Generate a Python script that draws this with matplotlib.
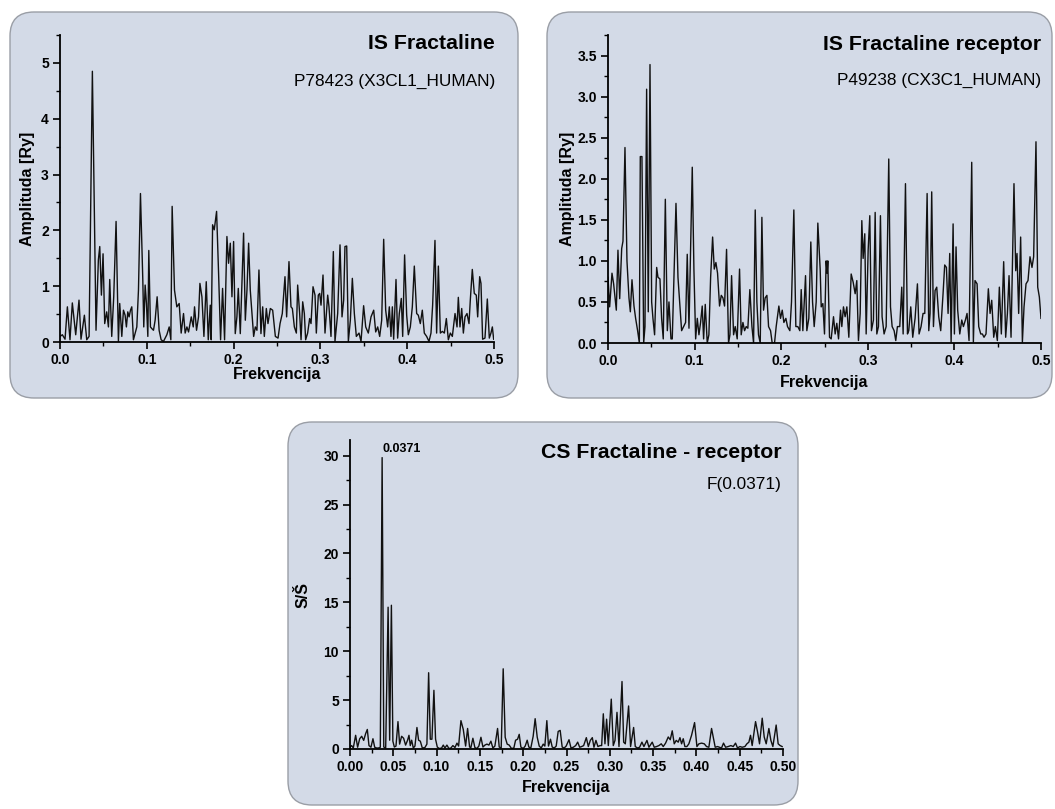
import matplotlib
matplotlib.use("Agg")
import matplotlib.pyplot as plt
from matplotlib.patches import FancyBboxPatch
from matplotlib.ticker import MultipleLocator, FormatStrFormatter

plt.rcParams['font.family'] = ['Liberation Sans', 'DejaVu Sans']
plt.rcParams['font.weight'] = 'bold'
plt.rcParams['axes.labelweight'] = 'bold'

# (frequency, amplitude)
is_fractaline = [
    (0.0000, 0.10), (0.0027, 0.13), (0.0058, 0.05), (0.0085, 0.63), (0.0115, 0.04), (0.0142, 0.70),
    (0.0181, 0.13), (0.0219, 0.75), (0.0242, 0.05), (0.0281, 0.48), (0.0308, 0.04), (0.0335, 0.10),
    (0.0373, 4.85), (0.0415, 0.21), (0.0442, 1.47), (0.0458, 1.71), (0.0477, 0.84), (0.0496, 1.58),
    (0.0515, 0.33), (0.0538, 0.54), (0.0558, 0.27), (0.0573, 1.12), (0.0596, 0.10), (0.0619, 0.81),
    (0.0646, 2.16), (0.0673, 0.01), (0.0688, 0.69), (0.0712, 0.10), (0.0731, 0.57), (0.0750, 0.48),
    (0.0765, 0.27), (0.0781, 0.54), (0.0796, 0.45), (0.0812, 0.57), (0.0827, 0.63), (0.0846, 0.04),
    (0.0885, 0.27), (0.0904, 0.93), (0.0927, 2.66), (0.0954, 1.11), (0.0965, 0.27), (0.0981, 1.02),
    (0.0996, 0.69), (0.1012, 0.10), (0.1023, 1.64), (0.1042, 0.27), (0.1058, 0.24), (0.1077, 0.21),
    (0.1096, 0.39), (0.1119, 0.81), (0.1142, 0.21), (0.1165, 0.04), (0.1192, 0.01), (0.1231, 0.13),
    (0.1258, 0.27), (0.1277, 0.04), (0.1292, 2.43), (0.1319, 0.93), (0.1346, 0.63), (0.1373, 0.69),
    (0.1396, 0.16), (0.1423, 0.51), (0.1442, 0.16), (0.1462, 0.27), (0.1481, 0.18), (0.1512, 0.45),
    (0.1535, 0.27), (0.1550, 0.63), (0.1573, 0.21), (0.1596, 0.45), (0.1612, 1.05), (0.1635, 0.81),
    (0.1658, 0.10), (0.1685, 1.08), (0.1708, 0.04), (0.1731, 0.66), (0.1742, 0.04), (0.1758, 2.10),
    (0.1777, 2.01), (0.1804, 2.34), (0.1827, 1.23), (0.1850, 0.04), (0.1873, 0.96), (0.1896, 0.04),
    (0.1923, 1.89), (0.1942, 1.41), (0.1962, 1.77), (0.1981, 0.81), (0.2000, 1.80), (0.2019, 0.15),
    (0.2038, 0.45), (0.2054, 0.96), (0.2077, 0.15), (0.2115, 1.95), (0.2135, 0.39), (0.2154, 0.93),
    (0.2173, 1.77), (0.2192, 0.93), (0.2231, 0.10), (0.2250, 0.27), (0.2269, 0.21), (0.2292, 1.29),
    (0.2315, 0.15), (0.2335, 0.63), (0.2354, 0.10), (0.2377, 0.60), (0.2396, 0.33), (0.2423, 0.60),
    (0.2450, 0.57), (0.2481, 0.10), (0.2512, 0.07), (0.2535, 0.33), (0.2561, 0.51), (0.2592, 1.17),
    (0.2611, 0.45), (0.2638, 1.44), (0.2661, 0.63), (0.2677, 0.60), (0.2700, 0.27), (0.2723, 0.16),
    (0.2738, 1.02), (0.2761, 0.51), (0.2777, 0.04), (0.2796, 0.72), (0.2815, 0.51), (0.2830, 0.04),
    (0.2853, 0.16), (0.2876, 0.42), (0.2892, 0.33), (0.2915, 0.99), (0.2938, 0.84), (0.2953, 0.16),
    (0.2976, 0.84), (0.2992, 0.87), (0.3007, 0.66), (0.3030, 1.20), (0.3053, 0.16), (0.3084, 0.84),
    (0.3099, 0.63), (0.3122, 0.10), (0.3149, 1.62), (0.3168, 0.01), (0.3199, 0.51), (0.3226, 1.74),
    (0.3249, 0.45), (0.3268, 0.75), (0.3283, 1.71), (0.3303, 1.72), (0.3322, 0.01), (0.3345, 0.39),
    (0.3368, 1.14), (0.3391, 0.51), (0.3414, 0.10), (0.3445, 0.16), (0.3468, 0.01), (0.3498, 0.65),
    (0.3522, 0.27), (0.3552, 0.16), (0.3583, 0.45), (0.3614, 0.57), (0.3637, 0.18), (0.3660, 0.27),
    (0.3683, 0.10), (0.3706, 0.39), (0.3729, 1.84), (0.3752, 0.57), (0.3775, 0.27), (0.3794, 0.63),
    (0.3813, 0.10), (0.3829, 0.63), (0.3844, 0.05), (0.3871, 1.12), (0.3890, 0.07), (0.3909, 0.51),
    (0.3932, 0.78), (0.3948, 0.10), (0.3970, 1.56), (0.3994, 0.48), (0.4013, 0.13), (0.4036, 0.27),
    (0.4059, 0.63), (0.4082, 1.36), (0.4109, 0.51), (0.4128, 0.48), (0.4151, 0.33), (0.4174, 0.57),
    (0.4197, 0.16), (0.4224, 0.10), (0.4251, 0.01), (0.4274, 0.16), (0.4293, 0.66), (0.4320, 1.82),
    (0.4339, 0.16), (0.4359, 1.36), (0.4382, 0.16), (0.4405, 0.19), (0.4428, 0.16), (0.4451, 0.42),
    (0.4474, 0.04), (0.4497, 0.16), (0.4520, 0.10), (0.4551, 0.51), (0.4574, 0.27), (0.4589, 0.80),
    (0.4608, 0.27), (0.4628, 0.60), (0.4647, 0.16), (0.4666, 0.45), (0.4689, 0.51), (0.4712, 0.33),
    (0.4727, 0.75), (0.4750, 1.30), (0.4773, 0.87), (0.4796, 0.84), (0.4812, 0.45), (0.4835, 1.17),
    (0.4850, 1.05), (0.4869, 0.05), (0.4896, 0.07), (0.4923, 0.77), (0.4946, 0.07), (0.4965, 0.16),
    (0.4981, 0.27), (0.4996, 0.05),
]

is_receptor = [
    (0.0000, 0.80), (0.0019, 0.44), (0.0046, 0.85), (0.0065, 0.72), (0.0096, 0.40), (0.0115, 1.13),
    (0.0135, 0.54), (0.0158, 1.15), (0.0173, 1.24), (0.0196, 2.38), (0.0219, 1.00), (0.0242, 0.55),
    (0.0258, 0.38), (0.0277, 0.77), (0.0300, 0.45), (0.0319, 0.30), (0.0342, 0.15), (0.0362, 0.00),
    (0.0373, 2.27), (0.0392, 2.27), (0.0412, 0.00), (0.0427, 0.20), (0.0446, 3.09), (0.0465, 0.38),
    (0.0485, 3.39), (0.0504, 0.50), (0.0519, 0.30), (0.0538, 0.10), (0.0562, 0.92), (0.0577, 0.80),
    (0.0600, 0.78), (0.0619, 0.30), (0.0638, 0.05), (0.0662, 1.75), (0.0685, 0.15), (0.0704, 0.50),
    (0.0727, 0.05), (0.0742, 0.05), (0.0785, 1.70), (0.0808, 0.80), (0.0827, 0.50), (0.0850, 0.15),
    (0.0873, 0.20), (0.0896, 0.25), (0.0915, 1.08), (0.0935, 0.18), (0.0973, 2.14), (0.0992, 0.90),
    (0.1012, 0.05), (0.1031, 0.30), (0.1050, 0.10), (0.1069, 0.25), (0.1088, 0.45), (0.1104, 0.05),
    (0.1123, 0.47), (0.1146, 0.00), (0.1165, 0.10), (0.1185, 0.80), (0.1208, 1.29), (0.1227, 0.90),
    (0.1246, 0.98), (0.1265, 0.85), (0.1288, 0.45), (0.1308, 0.58), (0.1327, 0.55), (0.1346, 0.45),
    (0.1369, 1.14), (0.1392, 0.00), (0.1408, 0.10), (0.1427, 0.82), (0.1450, 0.10), (0.1469, 0.20),
    (0.1492, 0.05), (0.1519, 0.90), (0.1538, 0.10), (0.1558, 0.25), (0.1577, 0.15), (0.1596, 0.20),
    (0.1615, 0.18), (0.1638, 0.65), (0.1662, 0.20), (0.1681, 0.00), (0.1700, 1.62), (0.1719, 0.50),
    (0.1738, 0.10), (0.1758, 0.00), (0.1777, 1.53), (0.1796, 0.40), (0.1815, 0.55), (0.1835, 0.58),
    (0.1854, 0.20), (0.1877, 0.15), (0.1896, 0.00), (0.1923, 0.00), (0.1942, 0.20), (0.1973, 0.45),
    (0.1992, 0.30), (0.2012, 0.40), (0.2031, 0.25), (0.2054, 0.30), (0.2073, 0.20), (0.2100, 0.15),
    (0.2119, 0.50), (0.2146, 1.62), (0.2169, 0.20), (0.2192, 0.20), (0.2215, 0.15), (0.2231, 0.65),
    (0.2250, 0.15), (0.2281, 0.82), (0.2296, 0.15), (0.2319, 0.30), (0.2342, 1.23), (0.2362, 0.50),
    (0.2381, 0.20), (0.2404, 0.50), (0.2423, 1.46), (0.2450, 0.90), (0.2462, 0.44), (0.2481, 0.48),
    (0.2500, 0.11), (0.2519, 1.00), (0.2530, 0.85), (0.2538, 1.00), (0.2558, 0.07), (0.2577, 0.05),
    (0.2604, 0.32), (0.2623, 0.11), (0.2642, 0.24), (0.2662, 0.05), (0.2685, 0.40), (0.2700, 0.20),
    (0.2719, 0.44), (0.2738, 0.32), (0.2758, 0.44), (0.2781, 0.07), (0.2808, 0.84), (0.2831, 0.74),
    (0.2854, 0.60), (0.2873, 0.76), (0.2892, 0.03), (0.2912, 0.36), (0.2931, 1.49), (0.2946, 1.03),
    (0.2965, 1.33), (0.2981, 0.11), (0.3004, 1.13), (0.3023, 1.55), (0.3042, 0.15), (0.3065, 0.28),
    (0.3085, 1.59), (0.3104, 0.11), (0.3123, 0.20), (0.3146, 1.55), (0.3165, 0.32), (0.3188, 0.11),
    (0.3212, 0.20), (0.3242, 2.24), (0.3262, 0.44), (0.3281, 0.20), (0.3304, 0.15), (0.3323, 0.03),
    (0.3342, 0.20), (0.3369, 0.20), (0.3392, 0.68), (0.3408, 0.11), (0.3435, 1.94), (0.3458, 0.11),
    (0.3473, 0.15), (0.3496, 0.44), (0.3519, 0.07), (0.3546, 0.30), (0.3573, 0.72), (0.3592, 0.11),
    (0.3615, 0.20), (0.3638, 0.36), (0.3658, 0.36), (0.3685, 1.82), (0.3704, 0.15), (0.3719, 0.36),
    (0.3738, 1.84), (0.3758, 0.20), (0.3777, 0.64), (0.3796, 0.68), (0.3819, 0.32), (0.3842, 0.15),
    (0.3869, 0.60), (0.3888, 0.95), (0.3908, 0.92), (0.3927, 0.36), (0.3946, 1.09), (0.3962, 0.01),
    (0.3985, 1.45), (0.4000, 0.11), (0.4019, 1.17), (0.4038, 0.40), (0.4062, 0.11), (0.4085, 0.28),
    (0.4104, 0.20), (0.4127, 0.28), (0.4146, 0.36), (0.4169, 0.03), (0.4200, 2.20), (0.4219, 0.01),
    (0.4238, 0.76), (0.4262, 0.72), (0.4281, 0.20), (0.4304, 0.11), (0.4323, 0.11), (0.4342, 0.07),
    (0.4365, 0.11), (0.4392, 0.66), (0.4412, 0.36), (0.4431, 0.52), (0.4454, 0.07), (0.4473, 0.20),
    (0.4496, 0.03), (0.4519, 0.68), (0.4542, 0.11), (0.4569, 0.99), (0.4592, 0.07), (0.4612, 0.36),
    (0.4631, 0.82), (0.4654, 0.07), (0.4688, 1.94), (0.4708, 0.88), (0.4723, 1.09), (0.4742, 0.36),
    (0.4765, 1.29), (0.4785, 0.01), (0.4804, 0.44), (0.4827, 0.72), (0.4850, 0.76), (0.4873, 1.05),
    (0.4896, 0.92), (0.4915, 1.05), (0.4942, 2.45), (0.4962, 0.68), (0.4981, 0.56), (0.5000, 0.30),
]

cs_spectrum = [
    (0.0000, 0.18), (0.0019, 0.35), (0.0038, 0.10), (0.0065, 1.40), (0.0088, 0.18), (0.0112, 1.05),
    (0.0135, 1.30), (0.0158, 0.88), (0.0181, 1.58), (0.0200, 2.00), (0.0219, 0.35), (0.0242, 0.18),
    (0.0265, 1.05), (0.0285, 0.18), (0.0308, 0.10), (0.0327, 0.10), (0.0350, 0.18), (0.0371, 29.80),
    (0.0390, 0.20), (0.0412, 0.10), (0.0440, 14.50), (0.0458, 0.90), (0.0478, 14.70), (0.0495, 0.80),
    (0.0512, 0.20), (0.0531, 0.30), (0.0554, 2.80), (0.0573, 0.50), (0.0596, 1.30), (0.0619, 1.10),
    (0.0642, 0.40), (0.0665, 0.90), (0.0681, 1.40), (0.0696, 0.35), (0.0712, 0.90), (0.0731, 0.10),
    (0.0750, 0.30), (0.0773, 2.20), (0.0792, 0.90), (0.0812, 0.80), (0.0835, 0.10), (0.0865, 0.15),
    (0.0888, 0.50), (0.0908, 7.80), (0.0927, 1.00), (0.0946, 1.00), (0.0969, 6.00), (0.0988, 1.00),
    (0.1008, 0.20), (0.1031, 0.05), (0.1058, 0.10), (0.1077, 0.40), (0.1096, 0.10), (0.1119, 0.40),
    (0.1142, 0.05), (0.1165, 0.10), (0.1188, 0.35), (0.1212, 0.15), (0.1235, 0.60), (0.1254, 0.30),
    (0.1281, 2.90), (0.1308, 2.00), (0.1335, 0.30), (0.1358, 2.10), (0.1381, 0.20), (0.1396, 0.15),
    (0.1419, 1.10), (0.1442, 0.15), (0.1465, 0.05), (0.1488, 0.30), (0.1512, 1.20), (0.1535, 0.20),
    (0.1558, 0.40), (0.1581, 0.50), (0.1604, 0.40), (0.1627, 0.80), (0.1650, 0.10), (0.1673, 0.30),
    (0.1704, 2.10), (0.1723, 0.20), (0.1746, 0.10), (0.1769, 8.20), (0.1792, 1.20), (0.1815, 0.50),
    (0.1838, 0.40), (0.1865, 0.05), (0.1892, 0.10), (0.1912, 0.90), (0.1935, 1.00), (0.1954, 1.50),
    (0.1973, 0.20), (0.2000, 0.05), (0.2023, 0.30), (0.2046, 0.90), (0.2065, 0.20), (0.2088, 0.10),
    (0.2115, 1.30), (0.2138, 3.10), (0.2162, 1.20), (0.2185, 0.30), (0.2208, 0.10), (0.2231, 0.50),
    (0.2250, 0.30), (0.2273, 2.90), (0.2292, 0.30), (0.2315, 1.00), (0.2335, 0.20), (0.2358, 0.10),
    (0.2381, 0.30), (0.2404, 1.80), (0.2427, 1.90), (0.2450, 0.20), (0.2473, 0.10), (0.2496, 0.30),
    (0.2529, 0.95), (0.2552, 0.10), (0.2579, 0.18), (0.2606, 0.35), (0.2629, 0.70), (0.2652, 0.18),
    (0.2675, 0.25), (0.2698, 0.35), (0.2729, 1.16), (0.2752, 0.25), (0.2775, 0.88), (0.2798, 1.16),
    (0.2817, 0.18), (0.2840, 0.88), (0.2863, 0.25), (0.2887, 0.35), (0.2906, 0.35), (0.2925, 3.60),
    (0.2944, 0.53), (0.2963, 3.05), (0.2983, 0.35), (0.3017, 5.10), (0.3040, 0.35), (0.3060, 0.88),
    (0.3083, 3.75), (0.3106, 0.25), (0.3141, 6.90), (0.3160, 0.70), (0.3179, 0.53), (0.3217, 4.40),
    (0.3240, 0.25), (0.3275, 2.20), (0.3294, 0.25), (0.3321, 0.10), (0.3344, 0.18), (0.3371, 0.70),
    (0.3394, 0.25), (0.3429, 0.88), (0.3452, 0.18), (0.3490, 0.70), (0.3513, 0.18), (0.3540, 0.25),
    (0.3567, 0.35), (0.3594, 0.53), (0.3617, 0.25), (0.3644, 0.60), (0.3675, 1.23), (0.3698, 0.95),
    (0.3721, 1.86), (0.3744, 0.53), (0.3767, 0.88), (0.3790, 0.70), (0.3810, 1.16), (0.3829, 0.53),
    (0.3848, 1.05), (0.3867, 0.25), (0.3890, 0.25), (0.3913, 0.53), (0.3944, 1.40), (0.3979, 2.70),
    (0.4006, 0.25), (0.4029, 0.53), (0.4060, 0.60), (0.4091, 0.53), (0.4117, 0.25), (0.4144, 0.18),
    (0.4175, 2.10), (0.4198, 1.05), (0.4217, 0.18), (0.4244, 0.25), (0.4267, 0.18), (0.4290, 0.10),
    (0.4313, 0.60), (0.4337, 0.18), (0.4367, 0.25), (0.4398, 0.35), (0.4425, 0.25), (0.4452, 0.60),
    (0.4475, 0.10), (0.4502, 0.25), (0.4529, 0.18), (0.4560, 0.25), (0.4583, 0.53), (0.4606, 0.70),
    (0.4625, 1.40), (0.4644, 0.35), (0.4683, 2.80), (0.4706, 1.75), (0.4729, 0.53), (0.4760, 3.15),
    (0.4783, 1.23), (0.4806, 0.53), (0.4837, 2.10), (0.4860, 0.88), (0.4883, 0.25), (0.4921, 2.45),
    (0.4944, 0.53), (0.4967, 0.35), (0.4990, 0.25),
]

panel_color = '#d3dae7'
line_color = '#111111'

fig = plt.figure(figsize=(10.55, 8.09), dpi=100)

# pixel-space layer for the rounded panels and the headings
bg = fig.add_axes([0, 0, 1, 1], zorder=-1)
bg.set_xlim(0, 1055)
bg.set_ylim(809, 0)
bg.axis('off')
for x0, y0, w, h in [(10, 12, 508, 386), (547, 12, 505, 386), (288, 422, 510, 383)]:
    bg.add_patch(FancyBboxPatch((x0, y0), w, h, boxstyle='round,pad=0,rounding_size=24',
                                facecolor=panel_color, edgecolor='#9a9ea6', linewidth=1.0))


def make_axes(rect, data, ymax, xmaj, ymaj, xfmt, yfmt, ylabel, xlab_y, ylab_x):
    ax = fig.add_axes(rect)
    ax.patch.set_alpha(0)
    f, a = zip(*data)
    ax.plot(f, a, color=line_color, lw=1.0)
    ax.set_xlim(0, 0.5)
    ax.set_ylim(0, ymax)
    for s in ['top', 'right']:
        ax.spines[s].set_visible(False)
    for s in ['left', 'bottom']:
        ax.spines[s].set_linewidth(1.3)
    ax.xaxis.set_major_locator(MultipleLocator(xmaj))
    ax.xaxis.set_minor_locator(MultipleLocator(xmaj / 2))
    ax.yaxis.set_major_locator(MultipleLocator(ymaj))
    ax.yaxis.set_minor_locator(MultipleLocator(ymaj / 2))
    ax.xaxis.set_major_formatter(FormatStrFormatter(xfmt))
    ax.yaxis.set_major_formatter(FormatStrFormatter(yfmt))
    ax.tick_params(which='major', direction='out', length=5, width=1.2, labelsize=10, pad=3)
    ax.tick_params(which='minor', direction='out', length=3, width=1.0)
    ax.set_xlabel('Frekvencija', fontsize=11.5)
    ax.set_ylabel(ylabel, fontsize=11.5)
    ax.xaxis.set_label_coords(0.5, xlab_y)
    ax.yaxis.set_label_coords(ylab_x, 0.5)
    return ax


make_axes([60 / 1055, 1 - 342 / 809, 434 / 1055, 307 / 809], is_fractaline, 5.5,
          0.1, 1, '%.1f', '%d', 'Amplituda [Ry]', -0.082, -0.058)
make_axes([608 / 1055, 1 - 343 / 809, 433 / 1055, 308 / 809], is_receptor, 3.75,
          0.1, 0.5, '%.1f', '%.1f', 'Amplituda [Ry]', -0.105, -0.076)
ax3 = make_axes([350 / 1055, 1 - 749 / 809, 433 / 1055, 309 / 809], cs_spectrum, 31.6,
                0.05, 5, '%.2f', '%d', 'S/Š', -0.1, -0.092)
ax3.text(0.0371, 30.7, '0.0371', fontsize=9, ha='left', va='center')

bg.text(495, 43, 'IS Fractaline', fontsize=15.3, ha='right', va='center')
bg.text(495, 81, 'P78423 (X3CL1_HUMAN)', fontsize=12.4, fontweight='normal', ha='right', va='center')
bg.text(1041, 44, 'IS Fractaline receptor', fontsize=15.3, ha='right', va='center')
bg.text(1041, 80, 'P49238 (CX3C1_HUMAN)', fontsize=12.4, fontweight='normal', ha='right', va='center')
bg.text(782, 452, 'CS Fractaline - receptor', fontsize=15.3, ha='right', va='center')
bg.text(782, 484, 'F(0.0371)', fontsize=12.4, fontweight='normal', ha='right', va='center')

fig.savefig('out.png', dpi=100, facecolor='white')
